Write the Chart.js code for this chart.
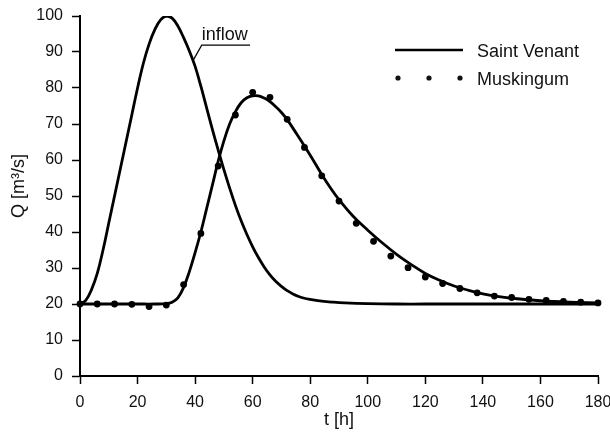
<!DOCTYPE html>
<html>
<head>
<meta charset="utf-8">
<script src="https://cdn.jsdelivr.net/npm/chart.js"></script>
<style>
  html, body { margin: 0; padding: 0; background: #fff; }
  canvas { display: block; }
</style>
</head>
<body>
<canvas id="chart" width="610" height="433"></canvas>
<script>
// inflow hydrograph
const inflowT = [0, 2, 4, 6, 8, 10, 12, 14, 16, 18, 20, 22, 24, 26, 28, 30, 32, 34, 36, 38, 40, 42, 44, 46, 48, 50, 52, 54, 56, 58, 60, 62, 64, 66, 68, 70, 72, 74, 76, 78, 80, 84, 88, 92, 100, 110, 120, 140, 160, 180];
const inflowQ = [20, 21, 24, 28.5, 35, 42.5, 50, 57.5, 65, 72.5, 80, 86.8, 92.2, 96.2, 98.9, 100, 99.4, 97.2, 94, 90.3, 86, 80.5, 74.5, 68.5, 62.8, 57.3, 52.2, 47.4, 43.1, 39.3, 35.9, 32.9, 30.3, 28.1, 26.3, 24.9, 23.7, 22.8, 22.1, 21.6, 21.3, 20.8, 20.5, 20.3, 20.1, 20, 20, 20, 20, 20];

// Saint Venant outflow
const venantT = [0, 10, 20, 26, 30, 32, 34, 36, 38, 40, 42, 44, 46, 48, 50, 52, 54, 56, 58, 60, 62, 64, 66, 68, 70, 72, 75, 78, 81, 84, 87, 90, 95, 100, 105, 110, 115, 120, 125, 130, 135, 140, 145, 150, 160, 170, 180];
const venantQ = [20, 20, 20, 20, 20.1, 20.5, 21.7, 24.6, 29, 34.3, 40, 46.5, 53, 59.6, 65.3, 70, 73.4, 75.9, 77.3, 77.8, 77.8, 77.2, 76.2, 74.8, 73.2, 71.2, 67.6, 63.9, 60, 56, 52.3, 49, 44.3, 40.5, 37, 33.8, 31, 28.5, 26.6, 25, 23.8, 22.8, 22.1, 21.6, 20.9, 20.5, 20.3];

// Muskingum, every 6 h
const muskT = [0, 6, 12, 18, 24, 30, 36, 42, 48, 54, 60, 66, 72, 78, 84, 90, 96, 102, 108, 114, 120, 126, 132, 138, 144, 150, 156, 162, 168, 174, 180];
const muskQ = [20, 20, 20, 19.9, 19.3, 19.7, 25.4, 39.6, 58.3, 72.5, 78.8, 77.4, 71.3, 63.5, 55.6, 48.6, 42.4, 37.4, 33.3, 30.1, 27.5, 25.7, 24.3, 23.1, 22.2, 21.8, 21.3, 21.0, 20.7, 20.5, 20.3];

const FONT = "'Liberation Sans', Arial, sans-serif";
const INK = "#111";

function toPoints(xs, ys) {
  return xs.map((x, i) => ({ x: x, y: ys[i] }));
}

// legend, y title and the "inflow" label
const extras = {
  id: "extras",
  afterDraw(chart) {
    const ctx = chart.ctx;
    const xs = chart.scales.x, ys = chart.scales.y;
    ctx.save();
    ctx.fillStyle = INK;
    ctx.strokeStyle = "#000";
    ctx.font = "18px " + FONT;
    ctx.textBaseline = "alphabetic";

    // legend
    ctx.lineWidth = 2.7;
    ctx.beginPath();
    ctx.moveTo(395, 50);
    ctx.lineTo(463, 50);
    ctx.stroke();
    ctx.fillText("Saint Venant", 477, 57);
    for (const dx of [398, 429, 460]) {
      ctx.beginPath();
      ctx.arc(dx, 78, 2.6, 0, Math.PI * 2);
      ctx.fill();
    }
    ctx.fillText("Muskingum", 477, 85);

    // inflow pointer
    const lx = xs.getPixelForValue(42.3), ly = ys.getPixelForValue(91.9);
    ctx.lineWidth = 1.2;
    ctx.beginPath();
    ctx.moveTo(xs.getPixelForValue(39.4), ys.getPixelForValue(87.8));
    ctx.lineTo(lx, ly);
    ctx.lineTo(xs.getPixelForValue(59.1), ly);
    ctx.stroke();
    ctx.fillText("inflow", lx, ly - 5);

    // y title, a bit above the axis middle like the original
    ctx.translate(19, 186);
    ctx.rotate(-Math.PI / 2);
    ctx.textAlign = "center";
    ctx.textBaseline = "middle";
    ctx.fillText("Q [m³/s]", 0, 0);
    ctx.restore();
  }
};

function axisOpts(min, max, step) {
  return {
    type: "linear",
    min: min,
    max: max,
    ticks: { stepSize: step, color: INK, padding: 9, font: { family: FONT, size: 16 } },
    grid: { drawOnChartArea: false, drawTicks: true, tickLength: 8, tickWidth: 1.5, tickColor: "#000" },
    border: { display: true, color: "#000", width: 2 },
  };
}

const xOpts = axisOpts(0, 180, 20);
xOpts.title = { display: true, text: "t [h]", color: INK, font: { family: FONT, size: 18 }, padding: { top: 0, bottom: 2 } };
xOpts.afterFit = s => { s.height = 57; s.paddingLeft = 0; s.paddingRight = 0; };

const yOpts = axisOpts(0, 100, 10);
yOpts.afterFit = s => { s.width = 80; s.paddingTop = 0; s.paddingBottom = 0; };

new Chart(document.getElementById("chart"), {
  type: "line",
  data: {
    datasets: [
      {
        label: "inflow",
        data: toPoints(inflowT, inflowQ),
        borderColor: "#000",
        borderWidth: 2.8,
        pointRadius: 0,
        tension: 0.4,
      },
      {
        label: "Saint Venant",
        data: toPoints(venantT, venantQ),
        borderColor: "#000",
        borderWidth: 2.8,
        pointRadius: 0,
        tension: 0.4,
      },
      {
        label: "Muskingum",
        data: toPoints(muskT, muskQ),
        showLine: false,
        pointRadius: 3.4,
        pointBackgroundColor: "#000",
        pointBorderWidth: 0,
        clip: false,
      },
    ],
  },
  plugins: [extras],
  options: {
    responsive: false,
    animation: false,
    layout: { padding: { left: 0, right: 12, top: 16, bottom: 0 } },
    plugins: { legend: { display: false }, tooltip: { enabled: false } },
    scales: { x: xOpts, y: yOpts },
  },
});
</script>
</body>
</html>
